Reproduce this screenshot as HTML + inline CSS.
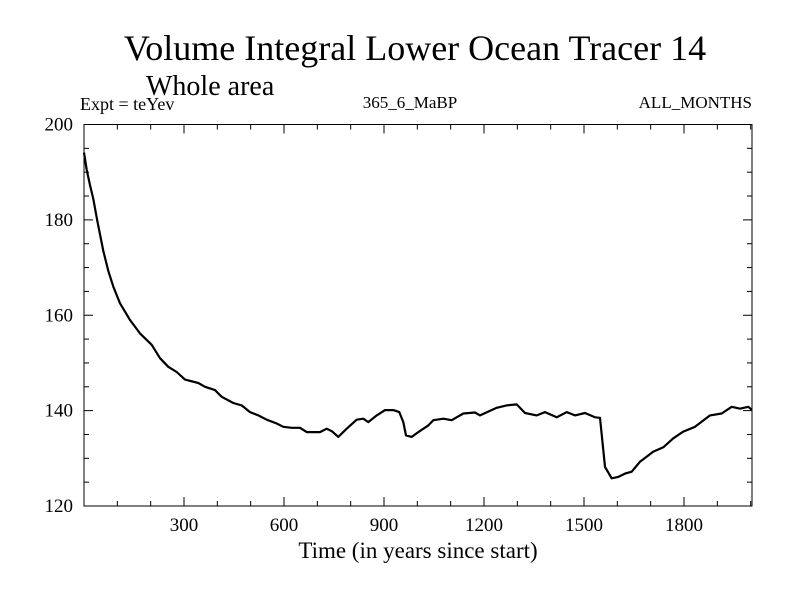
<!DOCTYPE html>
<html><head><meta charset="utf-8"><style>
body{margin:0;background:#fff;}
svg text{font-family:"Liberation Serif",serif;fill:#000;}
</style></head><body>
<svg id="chart" width="800" height="600" xmlns="http://www.w3.org/2000/svg">
<text x="415" y="60" font-size="36" text-anchor="middle">Volume Integral Lower Ocean Tracer 14</text>
<text x="146" y="95" font-size="28">Whole area</text>
<text x="80" y="110" font-size="18" xml:space="preserve">Expt = teYev</text>
<text x="410" y="108" font-size="17" text-anchor="middle">365_6_MaBP</text>
<text x="752" y="108" font-size="17" text-anchor="end">ALL_MONTHS</text>
<text x="418" y="558" font-size="23" text-anchor="middle">Time (in years since start)</text>
<g id="axes"></g>
<path id="line" fill="none" stroke="#000" stroke-width="2.2" stroke-linejoin="round"/>
<rect x="84" y="124.5" width="668" height="381.5" fill="none" stroke="#000" stroke-width="1"/>
</svg>
<script>
const years=[0,8,18,28,40,58,73,88,108,138,168,203,228,253,278,303,343,363,393,413,448,473,498,523,548,578,598,623,648,668,708,728,743,763,788,818,838,853,878,903,928,946,958,966,983,1003,1033,1048,1078,1103,1138,1173,1188,1238,1268,1298,1323,1358,1383,1418,1448,1473,1503,1533,1548,1563,1583,1603,1623,1643,1668,1708,1738,1768,1798,1833,1878,1913,1943,1968,1993,2003];
const values=[194.1,190.5,187.3,184.4,179.8,173.5,169.3,166,162.5,159,156.2,153.8,151,149.2,148.1,146.5,145.8,145,144.3,142.9,141.6,141.1,139.7,139,138.1,137.3,136.6,136.4,136.4,135.5,135.5,136.2,135.7,134.5,136.2,138.1,138.3,137.6,139,140.1,140.1,139.7,137.6,134.8,134.5,135.5,136.9,138,138.3,138,139.4,139.6,139,140.6,141.1,141.3,139.5,139,139.7,138.6,139.7,139,139.5,138.6,138.5,128.2,125.8,126.1,126.8,127.2,129.3,131.4,132.3,134.2,135.6,136.6,139,139.4,140.8,140.4,140.8,140.2];
const xTicks=[300,600,900,1200,1500,1800];
const yTicks=[120,140,160,180,200];
const X0=84,X1=752,Y0=506,Y1=124.5,XMIN=0,XMAX=2004,YMIN=120,YMAX=200;
const sx=v=>X0+(v-XMIN)/(XMAX-XMIN)*(X1-X0);
const sy=v=>Y0-(v-YMIN)/(YMAX-YMIN)*(Y0-Y1);
const NS="http://www.w3.org/2000/svg";
const axes=document.getElementById('axes');
function ln(x1,y1,x2,y2,name){const l=document.createElementNS(NS,'line');
l.setAttribute('x1',x1);l.setAttribute('y1',y1);l.setAttribute('x2',x2);l.setAttribute('y2',y2);
l.setAttribute('stroke','#000');l.setAttribute('stroke-width','1');


axes.appendChild(l);}
function tx(x,y,s,anchor,name){const t=document.createElementNS(NS,'text');
t.setAttribute('x',x);t.setAttribute('y',y);t.setAttribute('font-size','19');t.setAttribute('text-anchor',anchor);t.textContent=s;


axes.appendChild(t);}
for(let v=100;v<XMAX;v+=100){const x=sx(v);const major=xTicks.includes(v);const L=major?9:5;
ln(x,Y0,x,Y0-L,'x-tick');ln(x,Y1,x,Y1+L,'x-tick-top');}
xTicks.forEach(v=>tx(sx(v),531,String(v),'middle','x-tick-label'));
for(let v=YMIN+5;v<YMAX;v+=5){const y=sy(v);const major=yTicks.includes(v);const L=major?9:5;
ln(X0,y,X0+L,y,'y-tick');ln(X1,y,X1-L,y,'y-tick-right');}
yTicks.forEach(v=>tx(73,sy(v)+6,String(v),'end','y-tick-label'));
document.getElementById('line').setAttribute('d',years.map((y,i)=>(i?'L':'M')+sx(y).toFixed(1)+','+sy(values[i]).toFixed(1)).join(''));
</script>
</body></html>
